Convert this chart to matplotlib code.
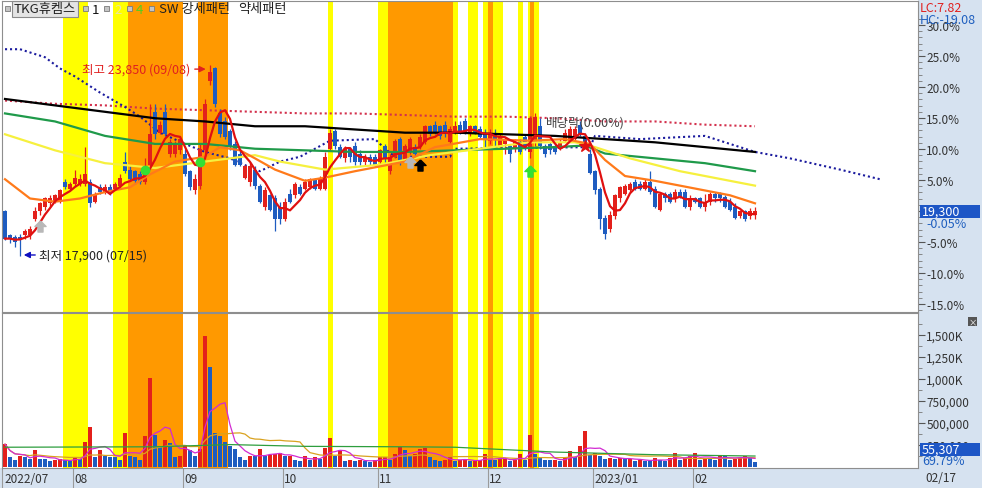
import numpy as np
import pandas as pd
import matplotlib
matplotlib.use("Agg")
import matplotlib.pyplot as plt
from matplotlib.patches import Rectangle

plt.rcParams['font.family'] = ['Noto Sans CJK KR', 'DejaVu Sans']
plt.rcParams['axes.unicode_minus'] = False

# -----------------------------
# Chart data
# -----------------------------
BASE_PRICE = 19310      # 0% reference of the right axis
LAST_PRICE = 19300
LAST_VOLUME = 55307

opens = [
    19300, 18550, 18500, 18500, 18550, 18550, 19050, 19300, 19450, 19550,
    19600, 19600, 20200, 20000, 20150, 20150, 20150, 20200, 19600, 20050,
    19900, 20050, 20000, 20100, 20850, 20600, 20550, 20450, 20200, 20750,
    22400, 21750, 22400, 21100, 21100, 21200, 21100, 20550, 19950, 20100,
    21200, 23350, 23750, 22350, 22100, 21800, 21400, 21100, 20350, 20200,
    20600, 20100, 19450, 19800, 19700, 19450, 19050, 19850, 19800, 20050,
    20000, 20050, 20300, 20000, 20000, 21250, 21800, 21300, 20950, 21250,
    21350, 21100, 20850, 21000, 21000, 20850, 21350, 20550, 21000, 21550,
    20850, 21150, 21300, 21300, 21450, 21950, 22000, 21950, 22000, 21450,
    21750, 22000, 22100, 21700, 21950, 21850, 21750, 21500, 21750, 21350,
    21400, 21350, 21250, 21450, 21600, 21150, 21450, 21950, 21350, 21400,
    21350, 21250, 21500, 21500, 21550, 22000, 21650, 21100, 20550, 20000,
    19100, 18750, 19150, 19700, 19850, 19950, 20200, 20150, 20000, 20200,
    20000, 19350, 19850, 19850, 19700, 19900, 19900, 19450, 19700, 19700,
    19450, 19600, 19850, 19850, 19750, 19600, 19450, 19150, 19300, 19150,
    19200,
]
closes = [
    18450, 18450, 18350, 18450, 18700, 18750, 19300, 19550, 19700, 19700,
    19800, 19950, 20050, 20150, 20350, 20300, 20450, 19550, 19850, 19900,
    20050, 19850, 20150, 20350, 20550, 20300, 20250, 20200, 20700, 21700,
    21700, 22000, 21700, 21450, 21400, 21550, 20450, 20050, 20300, 21250,
    22650, 23650, 22650, 21700, 21600, 21300, 20750, 20750, 20700, 20700,
    20100, 19600, 19950, 19350, 19050, 19050, 19600, 19600, 20150, 19850,
    20200, 20300, 20000, 20300, 21000, 21750, 21350, 21000, 21250, 21000,
    20850, 20850, 21000, 20850, 20750, 21200, 20950, 21000, 21500, 20850,
    21350, 21550, 21100, 21600, 21950, 21700, 21750, 21650, 21700, 21850,
    21950, 21750, 21750, 21950, 21750, 21600, 21550, 21750, 21550, 21650,
    21550, 21100, 21450, 21150, 21250, 22200, 22250, 21350, 21100, 21200,
    21150, 21450, 21750, 21850, 21850, 21700, 21350, 20500, 19950, 19050,
    18600, 19200, 19800, 20050, 20100, 20150, 20000, 20000, 20200, 19900,
    19450, 19850, 19700, 19600, 19900, 19750, 19450, 19700, 19600, 19450,
    19600, 19850, 19700, 19700, 19450, 19350, 19100, 19300, 19050, 19300,
    19300,
]
highs = [
    19350, 18600, 18550, 18600, 18750, 18850, 19450, 19600, 19750, 19800,
    19850, 20000, 20300, 20200, 20600, 20450, 21300, 20300, 19900, 20150,
    20150, 20150, 20200, 20450, 21150, 20700, 20600, 20550, 20950, 22650,
    22650, 22100, 22650, 21550, 21500, 21650, 21250, 20600, 20450, 21400,
    22800, 23850, 23800, 22500, 22250, 21850, 21500, 21200, 20750, 20850,
    20700, 20150, 20050, 19850, 19800, 19600, 19700, 20000, 20200, 20150,
    20300, 20350, 20350, 20400, 21150, 21850, 21850, 21400, 21350, 21300,
    21450, 21200, 21100, 21100, 21100, 21250, 21400, 21100, 21550, 21600,
    21400, 21600, 21400, 21700, 22000, 22000, 22100, 22000, 22100, 21950,
    22100, 22100, 22200, 22000, 22000, 21950, 21850, 21850, 21850, 21700,
    21600, 21400, 21550, 21550, 21700, 22250, 22350, 22200, 21400, 21450,
    21400, 21550, 21850, 21950, 21950, 22100, 21750, 21250, 20600, 20050,
    19200, 19300, 19850, 20100, 20150, 20200, 20300, 20250, 20300, 20550,
    20100, 19900, 19900, 19900, 20000, 20000, 20000, 19800, 19750, 19750,
    19850, 19900, 19900, 19900, 19800, 19700, 19550, 19350, 19350, 19400,
    19450,
]
lows = [
    18400, 18300, 18200, 17900, 18450, 18450, 19000, 19200, 19350, 19450,
    19550, 19550, 20000, 19950, 20100, 20100, 20100, 19450, 19550, 19850,
    19850, 19800, 19950, 20000, 20500, 20250, 20150, 20150, 20150, 20700,
    21550, 21700, 21650, 21000, 21000, 21100, 20400, 19950, 19850, 20000,
    21100, 23250, 22550, 21600, 21550, 21200, 20700, 20700, 20300, 20100,
    20000, 19550, 19350, 19300, 18700, 18900, 19000, 19550, 19700, 19800,
    19950, 20000, 19950, 19950, 19950, 21200, 21250, 20950, 20850, 20850,
    20750, 20750, 20750, 20750, 20700, 20800, 20850, 20450, 20950, 20750,
    20850, 21100, 21000, 21250, 21400, 21650, 21700, 21550, 21600, 21400,
    21700, 21700, 21700, 21650, 21700, 21550, 21250, 21400, 21300, 21250,
    21100, 20850, 21150, 21100, 21200, 20950, 21350, 21250, 21000, 21100,
    21100, 21200, 21450, 21450, 21500, 21650, 21300, 20450, 19850, 18750,
    18450, 18650, 19050, 19600, 19800, 19900, 19950, 19950, 19950, 19850,
    19400, 19300, 19600, 19550, 19600, 19700, 19400, 19350, 19550, 19400,
    19300, 19500, 19600, 19600, 19400, 19300, 19050, 19100, 19000, 19050,
    19050,
]
volume_k = [
    260, 115, 75, 125, 115, 90, 195, 90, 88, 65,
    75, 90, 75, 65, 115, 90, 285, 455, 115, 190,
    120, 115, 112, 75, 385, 125, 115, 85, 350, 1010,
    360, 240, 305, 270, 115, 120, 250, 190, 125, 205,
    1490, 1140, 385, 350, 290, 240, 205, 115, 75, 125,
    120, 205, 125, 140, 150, 155, 120, 125, 75, 65,
    130, 75, 115, 90, 215, 330, 125, 190, 70, 80,
    70, 75, 70, 60, 80, 110, 115, 80, 150, 225,
    190, 125, 150, 210, 215, 110, 80, 70, 80, 110,
    70, 80, 85, 65, 70, 75, 150, 85, 80, 90,
    95, 70, 85, 150, 85, 365, 150, 105, 85, 75,
    85, 70, 105, 180, 110, 240, 410, 140, 160, 125,
    95, 100, 90, 105, 90, 95, 70, 75, 70, 65,
    105, 85, 70, 105, 160, 85, 105, 120, 160, 85,
    105, 100, 85, 130, 125, 85, 90, 105, 130, 110,
    55.3,
]

# long moving averages / cloud lines, read at sample days
orange_days = [0, 5, 10, 15, 20, 25, 29, 34, 40, 43, 47, 50, 54, 60, 64, 70, 80, 86, 95, 105, 112, 117, 120, 124, 130, 140, 145, 150]
orange_vals = [20300, 19700, 19600, 19700, 19900, 20050, 20450, 20850, 21000, 21300, 21200, 20950, 20600, 20250, 20350,
               20550, 20850, 21300, 21550, 21500, 21550, 21400, 20900, 20400, 20250, 19950, 19800, 19550]
yellow_days = [0, 10, 20, 30, 40, 50, 55, 64, 75, 85, 95, 105, 114, 118, 125, 135, 150]
yellow_vals = [21700, 21200, 20800, 20650, 20850, 21050, 20850, 20600, 20750, 21050, 21250, 21450, 21450, 21300, 20950, 20550, 20100]
green_days = [0, 10, 20, 30, 40, 50, 60, 70, 80, 90, 100, 110, 116, 120, 130, 140, 150]
green_vals = [22350, 22100, 21650, 21400, 21400, 21250, 21200, 21150, 21150, 21200, 21250, 21300, 21350, 21100, 20950, 20800, 20550]
black_days = [0, 10, 20, 30, 40, 50, 60, 70, 80, 90, 100, 110, 120, 130, 140, 150]
black_vals = [22800, 22600, 22400, 22200, 22100, 21950, 21950, 21850, 21750, 21750, 21700, 21650, 21550, 21450, 21300, 21150]
red_dot_days = [0, 10, 20, 30, 40, 50, 60, 70, 80, 90, 100, 110, 120, 130, 140, 150]
red_dot_vals = [22750, 22650, 22600, 22500, 22450, 22400, 22350, 22350, 22300, 22250, 22250, 22200, 22100, 22100, 22000, 21950]
blue_dot_days = [0, 3, 5, 8, 11, 14, 19, 24, 27, 31, 36, 40, 45, 50, 51, 55, 59, 65, 74, 76, 78, 89, 90,
                 117, 118, 127, 140, 150, 157, 167, 175]
blue_dot_vals = [24350, 24350, 24250, 24100, 23750, 23500, 23000, 22550, 22250, 21750, 21400, 21150, 20950, 20600, 20550,
                 20850, 21000, 21500, 21550, 21250, 21000, 21000, 21250, 21300, 21650, 21550, 21650, 21150, 20950, 20600, 20300]
vol_green_days = [0, 30, 45, 60, 80, 90, 110, 130, 150]
vol_green_k = [225, 230, 255, 235, 230, 225, 170, 140, 125]

# pattern bands (day edges)
yellow_bands = [(11.5, 16.5), (21.5, 24.5), (64.5, 65.5), (74.5, 76.5), (89.5, 90.5), (92.5, 94.5),
                (95.5, 96.5), (97.5, 99.5), (102.5, 103.5), (104.6, 106.8)]
orange_bands = [(24.5, 35.5), (38.5, 44.5), (76.5, 89.5), (96.5, 97.5), (105.0, 105.8)]

# signal markers (day, price)
green_dots = [(28, 20600), (39, 20850)]
grey_arrows = [(7, 18850), (81, 20850)]
black_arrows = [(83, 20750)]
green_arrows = [(105, 20550)]
red_stars = [(116, 21350)]

month_labels = ["2022/07", "08", "09", "10", "11", "12", "2023/01", "02"]
month_start = [0, 14, 36, 56, 75, 97, 118, 138]

pct_ticks = [30, 25, 20, 15, 10, 5, 0, -5, -10, -15]
vol_ticks = [250000, 500000, 750000, 1000000, 1250000, 1500000]
vol_tick_labels = ["250,000", "500,000", "750,000", "1,000K", "1,250K", "1,500K"]

# -----------------------------
# Styling
# -----------------------------
W, H = 982, 489
PANEL = '#d6e2f0'
UP = '#e3201b'
DOWN = '#1e5cc0'
EDGE = '#8e8e8e'
TXT = '#333333'


def fx(px):
    return px / W


def fy(py):
    return 1 - py / H


def fig_text(fig, x, y, s, **kw):
    return fig.text(fx(x), fy(y), s, **kw)


ARROW_UP = [(0, 1), (-1, 0), (-0.45, 0), (-0.45, -1), (0.45, -1), (0.45, 0), (1, 0), (0, 1)]


# -----------------------------
# Price panel
# -----------------------------
def draw_price(ax, df):
    for l, r in yellow_bands:
        ax.axvspan(l, r, color='#ffff00', lw=0, zorder=0)
    for l, r in orange_bands:
        ax.axvspan(l, r, color='#ff9900', lw=0, zorder=0.5)

    x = df.index.values
    up = df['close'] >= df['open']
    colors = np.where(up, UP, DOWN)
    ax.vlines(x, df['low'], df['high'], colors=colors, lw=0.9, zorder=3)
    body = (df['close'] - df['open']).abs().clip(lower=20)
    ax.bar(x, body, bottom=df[['open', 'close']].min(axis=1), width=0.72,
           color=colors, lw=0, zorder=3)

    dots = (0, (1, 1.4))
    ax.plot(red_dot_days, red_dot_vals, color='#d3304c', lw=1.5, ls=dots, zorder=2)
    ax.plot(blue_dot_days, blue_dot_vals, color='#1b1b9e', lw=1.5, ls=dots, zorder=2)
    ax.plot(black_days, black_vals, color='black', lw=1.6, zorder=4)
    ax.plot(green_days, green_vals, color='#1f9a4a', lw=1.6, zorder=4)
    ax.plot(yellow_days, yellow_vals, color='#f6f03e', lw=1.6, zorder=4)
    ax.plot(orange_days, orange_vals, color='#ff7a1a', lw=1.6, zorder=4)
    ma5 = df['close'].rolling(5, min_periods=1).mean()
    ax.plot(x, ma5, color='#e01010', lw=1.6, zorder=4)

    for d, p in green_dots:
        ax.plot(d, p, 'o', color='#33e033', ms=6, zorder=5)
    for d, p in grey_arrows:
        ax.plot(d, p, marker=ARROW_UP, color='#b8b8b8', ms=8, zorder=5)
    for d, p in black_arrows:
        ax.plot(d, p, marker=ARROW_UP, color='black', ms=8, zorder=5)
    for d, p in green_arrows:
        ax.plot(d, p, marker=ARROW_UP, color='#33e033', ms=8, zorder=5)
    for d, p in red_stars:
        ax.plot(d, p, marker='*', color='#e01010', ms=9, zorder=5)

    # high / low notes
    hi = int(np.argmax(df['high'].values))
    lo = int(np.argmin(df['low'].values))
    y_hi = 23730
    ax.text(15.4, y_hi, f"최고 {df['high'][hi]:,} (09/08)", color='#e02020',
            fontsize=9, ha='left', va='center', zorder=6)
    ax.annotate('', xy=(hi - 0.3, y_hi), xytext=(hi - 3.6, y_hi),
                arrowprops=dict(arrowstyle='-|>', color='#e02020', lw=1,
                                mutation_scale=9), zorder=6)
    y_lo = 17940
    ax.annotate('', xy=(lo + 0.2, y_lo), xytext=(lo + 3.6, y_lo),
                arrowprops=dict(arrowstyle='-|>', color='#1010c0', lw=1,
                                mutation_scale=9), zorder=6)
    ax.text(lo + 3.7, y_lo, f"최저 {df['low'][lo]:,} (07/15)", color='#222222',
            fontsize=9, ha='left', va='center', zorder=6)
    ax.text(108.2, 22080, "배당락(0.00%)", color='#444444', fontsize=9,
            ha='left', va='center', zorder=6)

    # right percent axis (0% label sits under the last-price box)
    ax.set_ylim(16164, 25852)
    ax.yaxis.tick_right()
    ax.set_yticks([BASE_PRICE * (1 + p / 100) for p in pct_ticks])
    ax.set_yticklabels([f"{p:.1f}%" if p != 0 else "" for p in pct_ticks])
    ax.set_yticks([BASE_PRICE * (1 + p / 100) for p in range(-16, 32)], minor=True)
    ax.tick_params(axis='y', which='major', direction='out', length=5, width=0.8,
                   color='#555555', labelsize=8.5, labelcolor=TXT, pad=1)
    ax.tick_params(axis='y', which='minor', direction='out', length=3, width=0.6,
                   color='#777777')
    ax.tick_params(axis='x', bottom=False, labelbottom=False)
    for s in ax.spines.values():
        s.set_color(EDGE)


# -----------------------------
# Volume panel
# -----------------------------
def draw_volume(ax, df):
    for l, r in yellow_bands:
        ax.axvspan(l, r, color='#ffff00', lw=0, zorder=0)
    for l, r in orange_bands:
        ax.axvspan(l, r, color='#ff9900', lw=0, zorder=0.5)

    x = df.index.values
    vol = df['volume']
    rising = vol.diff().fillna(1) > 0
    ax.bar(x, vol, width=0.62, color=np.where(rising, UP, DOWN), lw=0, zorder=3)
    ax.plot(x, vol.rolling(20, min_periods=1).mean(), color='#d9a21f', lw=0.9, zorder=4)
    ax.plot(x, vol.rolling(5, min_periods=1).mean(), color='#d22ad2', lw=0.9, zorder=4)
    ax.plot(vol_green_days, np.array(vol_green_k) * 1000, color='#2e9e3e', lw=0.9, zorder=4)

    ax.set_ylim(-11000, 1750000)
    ax.yaxis.tick_right()
    ax.set_yticks(vol_ticks)
    ax.set_yticklabels(vol_tick_labels)
    ax.set_yticks(np.arange(125000, 1750000, 125000), minor=True)
    ax.tick_params(axis='y', which='major', direction='out', length=5, width=0.8,
                   color='#555555', labelsize=8.5, labelcolor=TXT, pad=1)
    ax.tick_params(axis='y', which='minor', direction='out', length=3, width=0.6,
                   color='#777777')

    seps = [m - 0.5 for m in month_start]
    ax.set_xticks(seps)
    ax.tick_params(axis='x', direction='out', length=14.4, width=0.8,
                   color='#9a9a9a', labelbottom=False)
    tr = ax.get_xaxis_transform()
    for s, lab in zip(seps, month_labels):
        ax.text(s + 0.3, -0.068, lab, transform=tr, fontsize=8.5, color=TXT,
                ha='left', va='center', clip_on=False)
    for s in ax.spines.values():
        s.set_color(EDGE)


# -----------------------------
# Frame, legend and value boxes
# -----------------------------
def draw_frame(fig):
    fig.add_artist(Rectangle((fx(918), 0), 1 - fx(918), 1, transform=fig.transFigure,
                             fc=PANEL, ec='none', zorder=-2))
    fig.add_artist(Rectangle((0, 0), fx(918), 20 / H, transform=fig.transFigure,
                             fc=PANEL, ec='none', zorder=-2))

    # legend row
    for sx in [5, 83, 104, 127, 149]:
        fig.add_artist(Rectangle((fx(sx), fy(12)), 5 / W, 5 / H, transform=fig.transFigure,
                                 fc='#c4c4c4', ec='#7a7a7a', lw=0.6, zorder=6))
    fig_text(fig, 14, 10, "TKG휴켐스", fontsize=9.5, color='#222222', va='center',
             bbox=dict(boxstyle='square,pad=0.12', fc='#e4e4e4', ec='#8a8a8a', lw=0.8), zorder=6)
    fig_text(fig, 92, 10, "1", fontsize=9.5, color='#111111', va='center', zorder=6)
    fig_text(fig, 114, 10, "2", fontsize=9.5, color='#ece6a0', va='center', zorder=6)
    fig_text(fig, 136, 10, "4", fontsize=9.5, color='#55cc22', va='center', zorder=6)
    fig_text(fig, 159, 10, "SW 강세패턴", fontsize=9.5, color='#222222', va='center', zorder=6)
    fig_text(fig, 238, 10, "약세패턴", fontsize=9.5, color='#222222', va='center', zorder=6)

    # right panel values
    fig_text(fig, 920, 9, "LC:7.82", fontsize=9, color='#e02020', va='center', zorder=6)
    fig_text(fig, 920, 21, "HC:-19.08", fontsize=9, color='#1f5fbf', va='center', zorder=6)

    fig.add_artist(Rectangle((fx(920), fy(219)), 60 / W, 13 / H, transform=fig.transFigure,
                             fc='#1d56c6', ec='none', zorder=5))
    fig_text(fig, 922, 212.5, f"{LAST_PRICE:,}", fontsize=9, color='white', va='center', zorder=6)
    pct = (LAST_PRICE / BASE_PRICE - 1) * 100
    fig_text(fig, 926, 225, f"{pct:.2f}%", fontsize=9, color='#1f5fbf', va='center', zorder=6)

    fig.add_artist(Rectangle((fx(920), fy(457)), 60 / W, 13 / H, transform=fig.transFigure,
                             fc='#1d56c6', ec='none', zorder=5))
    fig_text(fig, 922, 450.5, f"{LAST_VOLUME:,}", fontsize=9, color='white', va='center', zorder=6)
    fig_text(fig, 922, 462, "69.79%", fontsize=9, color='#1f5fbf', va='center', zorder=6)

    fig.add_artist(Rectangle((fx(968), fy(327)), 9 / W, 9 / H, transform=fig.transFigure,
                             fc='#555555', ec='none', zorder=5))
    fig_text(fig, 972.5, 322.5, "×", fontsize=6, color='white', ha='center', va='center', zorder=6)

    fig_text(fig, 925, 479, "02/17", fontsize=8.5, color=TXT, va='center', zorder=6)


# -----------------------------
# Main
# -----------------------------
def main():
    df = pd.DataFrame({'open': opens, 'high': highs, 'low': lows,
                       'close': closes, 'volume': np.array(volume_k) * 1000})

    fig = plt.figure(figsize=(W / 100, H / 100), dpi=100)
    fig.patch.set_facecolor('white')

    ax_p = fig.add_axes([fx(2), fy(313), fx(918) - fx(2), (313 - 2) / H])
    ax_v = fig.add_axes([fx(2), fy(469), fx(918) - fx(2), (469 - 314) / H], sharex=ax_p)
    ax_p.set_xlim(-0.6, 182.6)

    draw_price(ax_p, df)
    draw_volume(ax_v, df)
    draw_frame(fig)

    fig.savefig("out.png", dpi=100)


if __name__ == "__main__":
    main()
